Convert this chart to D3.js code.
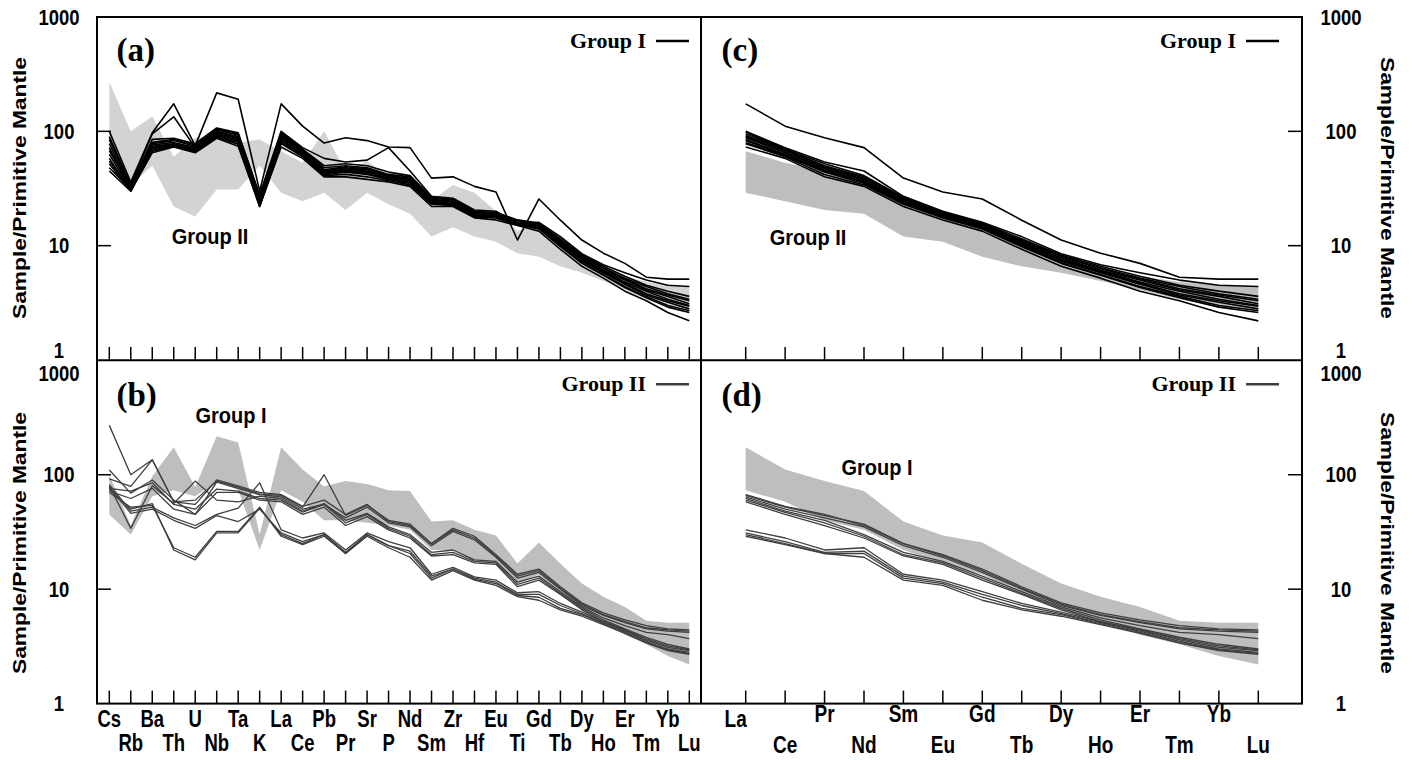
<!DOCTYPE html>
<html><head><meta charset="utf-8">
<script src="https://cdn.jsdelivr.net/npm/d3@7"></script>
<style>body{margin:0;background:#fff}svg{display:block}</style>
</head><body><svg id="c" width="1418" height="760"></svg>
<script>
// ---------- data ----------
const traceElements = ["Cs","Rb","Ba","Th","U","Nb","Ta","K","La","Ce","Pb","Pr","Sr","P","Nd","Sm","Zr","Hf","Eu","Ti","Gd","Tb","Dy","Ho","Er","Tm","Yb","Lu"];
const reeElements = ["La","Ce","Pr","Nd","Sm","Eu","Gd","Tb","Dy","Ho","Er","Tm","Yb","Lu"];
const yTicks = [1, 10, 100, 1000];
const yTickLabels = ["1", "10", "100", "1000"];
const yTitle = "Sample/Primitive Mantle";
const panelLabels = ["(a)", "(b)", "(c)", "(d)"];

// Group I samples (normalised to primitive mantle), order = traceElements
const groupI = [
  [100,36,97,174,75,217,191,30,174,111,79,88,83,73,72,39,40,33,29.5,11.2,25.6,16.7,11.2,8.6,7.0,5.3,5.1,5.1],
  [90,34,95,134,72,105,95,28,100,72,58,54,56,72,45,27,26,20.5,20,15.5,16,12,8.5,6.8,5.8,5.0,4.5,4.4],
  [85,33,85,87,78,107,97,27,98,70,50,52,50,44,41,26.5,25.5,20,19.5,16.8,15.8,11.5,8.3,6.6,5.4,4.5,4.0,3.6],
  [78,32,80,85,76,103,93,26,95,69,48,50,48,42,40,26,25,19.5,19.5,16.5,15.5,11.2,8.1,6.4,5.2,4.4,3.8,3.4],
  [72,31,78,83,74,100,90,25,92,68,46,49,47,41,39,25.5,24.5,19,19,16,15.2,11,8.0,6.3,5.1,4.2,3.7,3.3],
  [68,32,76,80,72,98,88,25,90,66,45,48,46,40,38,25,24,19,18.8,16,15,10.8,7.8,6.1,5.0,4.1,3.6,3.1],
  [63,31,74,78,70,96,86,24,88,65,44,47,45,40,37,24.5,23.5,18.5,18.5,15.8,14.8,10.6,7.6,6.0,4.8,4.0,3.4,3.0],
  [58,30,72,77,69,94,84,24,85,63,43,46,44,39,36,24,23,18.5,18.3,15.6,14.6,10.4,7.5,5.9,4.7,3.8,3.3,2.95],
  [55,31,70,76,68,92,82,23,83,62,42,45,43,38,36,24,23,18,18,15.5,14.4,10.2,7.3,5.8,4.6,3.7,3.2,2.8],
  [52,30,68,75,67,90,80,23,80,61,42,44,42,38,35,23.5,22.5,18,18,15.3,14.2,10,7.1,5.6,4.4,3.6,3.0,2.7],
  [48,31,67,74,66,89,77,22,78,60,41,42,40,37,34,23,22.5,17.8,17.5,15.2,14,9.8,7.0,5.5,4.3,3.5,2.9,2.6],
  [45,30,65,73,65,87,74,22,73,58,40,40,38,36,33,22,22,17.5,16.8,15,13.4,9.3,6.6,5.2,4.0,3.3,2.6,2.2]
];

// Group II samples
const groupII = [
  [270,100,135,58,55,90,80,70,67,53,60,45,55,39,36,25,34,29,20,13.5,15,10.5,7.6,6.2,5.4,4.8,4.5,4.4],
  [92,79,135,58,60,88,78,68,66,52,100,44,54,40,37,25,33,28,19.5,13,14.5,10.2,7.4,6.0,5.2,4.6,4.4,4.3],
  [110,69,90,60,45,86,76,67,64,50,55,42,52,38,35,24,32,27,19,12.5,14,10,7.2,5.9,5.1,4.5,4.3,4.2],
  [80,34,80,56,88,60,58,65,62,48,56,40,46,35,30,21,22,18,17.5,11.5,13,9.5,7.0,5.6,4.8,4.2,4.0,3.7],
  [76,72,85,55,50,75,72,62,60,47,55,38,45,34,29,20,21,17.5,17,11,12.5,9.2,6.8,5.4,4.5,3.8,3.3,3.0],
  [72,62,76,50,45,70,70,60,58,45,52,36,43,33,28,19.5,20,17,16.5,10.5,12,9.0,6.6,5.2,4.4,3.7,3.2,2.95],
  [82,48,52,42,36,45,51,85,33,28,31,22,31,26,23,13.5,15.5,12.8,12,9.3,9.5,7.5,6.3,5.2,4.4,3.6,3.1,2.9],
  [78,46,50,40,34,44,39,50,31,26,30,21,30,24,21.5,13,15,12.5,11.5,9,9.0,7.2,6.1,5.1,4.3,3.5,3.0,2.8],
  [75,50,56,22,18,31,31,51,30,25,30,20.5,30,24,20.5,12.5,15,12.2,11.2,8.8,8.5,6.8,6.0,5.0,4.2,3.4,2.95,2.75],
  [70,52,54,23,19,32,32,52,29,24.5,29,20.5,29,23,19,12,14.5,12,10.8,8.6,8.0,6.6,5.8,4.9,4.1,3.4,2.9,2.7]
];

// ---------- drawing ----------
const svg = d3.select("#c");
const SANS = "'Liberation Sans', Arial, sans-serif";
const SERIF = "'Liberation Serif', 'Times New Roman', serif";

const colX = [{x0:97, x1:701, pad0:12.3, pad1:11.7, legR:12}, {x0:701, x1:1302, pad0:44.7, pad1:43.7, legR:23}];
const rowY = [{y0:17, y1:360}, {y0:360.3, y1:703.6}];

function txt(x, y, s, o) {
  const t = svg.append("text")
    .attr("transform", `translate(${x},${y}) rotate(${o.rot||0}) scale(${o.sx||1},${o.sy||1})`)
    .attr("text-anchor", o.anchor || "middle")
    .attr("font-family", o.family || SANS)
    .attr("font-weight", "bold")
    .attr("font-size", o.size || 19)
    .attr("fill", o.fill || "#000")
    .text(s);
  if (o.dy) t.attr("dy", o.dy);
  return t;
}

function envelope(group, elems) {
  return elems.map(e => {
    const i = traceElements.indexOf(e);
    const vals = group.map(r => r[i]);
    return {e, lo: d3.min(vals), hi: d3.max(vals)};
  });
}

const panels = [
  {col:0, row:0, elems:traceElements, lines:groupI, env:groupII, lineColor:"#000", lineW:1.6, envColor:"#d2d3d5", label:panelLabels[0], legend:"Group I", note:"Group II", noteX:210, noteY:244},
  {col:0, row:1, elems:traceElements, lines:groupII, env:groupI, lineColor:"#3f3f3f", lineW:1.3, envColor:"#bdbec0", label:panelLabels[1], legend:"Group II", note:"Group I", noteX:231, noteY:423},
  {col:1, row:0, elems:reeElements, lines:groupI, env:groupII, lineColor:"#000", lineW:1.6, envColor:"#bdbec0", label:panelLabels[2], legend:"Group I", note:"Group II", noteX:808, noteY:245},
  {col:1, row:1, elems:reeElements, lines:groupII, env:groupI, lineColor:"#3f3f3f", lineW:1.3, envColor:"#bdbec0", label:panelLabels[3], legend:"Group II", note:"Group I", noteX:877, noteY:475}
];

panels.forEach(p => {
  const C = colX[p.col], Rw = rowY[p.row];
  const x = d3.scalePoint().domain(p.elems).range([C.x0 + C.pad0, C.x1 - C.pad1]);
  const y = d3.scaleLog().domain([1, 1000]).range([Rw.y1, Rw.y0]);
  p.x = x; p.y = y;
  const g = svg.append("g");

  // envelope of the other group
  const env = envelope(p.env, p.elems);
  g.append("path").datum(env)
    .attr("d", d3.area().x(d => x(d.e)).y0(d => y(d.lo)).y1(d => y(d.hi)))
    .attr("fill", p.envColor);

  // sample lines
  const idx = p.elems.map(e => traceElements.indexOf(e));
  const line = d3.line().x(d => x(d.e)).y(d => y(d.v));
  p.lines.forEach(r => {
    const pts = idx.map((i, k) => ({e: p.elems[k], v: r[i]}));
    g.append("path").datum(pts).attr("d", line)
      .attr("fill", "none").attr("stroke", p.lineColor)
      .attr("stroke-width", p.lineW).attr("stroke-linejoin", "round");
  });

  // x ticks (inward from bottom)
  p.elems.forEach(e => {
    g.append("line").attr("x1", x(e)).attr("x2", x(e))
      .attr("y1", Rw.y1).attr("y2", Rw.y1 - 13)
      .attr("stroke", "#000").attr("stroke-width", 1.5);
  });
  // y ticks (inward) on outer side
  [10, 100].forEach(v => {
    const xs = p.col === 0 ? [C.x0, C.x0 + 14] : [C.x1, C.x1 - 14];
    g.append("line").attr("x1", xs[0]).attr("x2", xs[1])
      .attr("y1", y(v)).attr("y2", y(v))
      .attr("stroke", "#000").attr("stroke-width", 1.5);
  });

  // y tick labels
  yTicks.forEach((v, k) => {
    let yy = y(v);
    if (v === 1 && p.row === 0) yy -= 10;
    if (v === 1000 && p.row === 1) yy += 13;
    const lx = p.col === 0 ? 59 : 1341;
    txt(lx, yy, yTickLabels[k], {size:18.5, sy:1.15, dy:"0.36em"});
  });

  // panel label
  txt(C.x0 + (p.col === 0 ? 19.5 : 20.5), Rw.y0 + (p.row === 0 ? 44 : 45.5), p.label, {family:SERIF, size:33, anchor:"start"});
  // legend
  const lx1 = C.x1 - C.legR, lx0 = lx1 - 33;
  const ly = Rw.y0 + 24;
  g.append("line").attr("x1", lx0).attr("x2", lx1).attr("y1", ly).attr("y2", ly)
    .attr("stroke", p.lineColor).attr("stroke-width", 2.4);
  txt(lx0 - 10, ly + 6.5, p.legend, {family:SERIF, size:22, anchor:"end"});
  // group note
  txt(p.noteX, p.noteY, p.note, {size:20, sy:1.12});
});

// x labels (alternating rows)
const pl = panels[1];
traceElements.forEach((e, i) => {
  txt(pl.x(e), i % 2 === 0 ? 727 : 751, e, {size:18.5, sy:1.25});
});
const pr = panels[3];
reeElements.forEach((e, i) => {
  const dx = e === "La" ? -10 : 0;
  const yy = i % 2 === 0 ? (e === "La" ? 727 : 722) : 753;
  txt(pr.x(e) + dx, yy, e, {size:19, sy:1.25});
});

// frame
svg.append("rect").attr("x", 97).attr("y", 17).attr("width", 1302 - 97).attr("height", 703.6 - 17)
  .attr("fill", "none").attr("stroke", "#000").attr("stroke-width", 2);
svg.append("line").attr("x1", 97).attr("x2", 1302).attr("y1", 360.3).attr("y2", 360.3)
  .attr("stroke", "#000").attr("stroke-width", 2);
svg.append("line").attr("x1", 701).attr("x2", 701).attr("y1", 17).attr("y2", 703.6)
  .attr("stroke", "#000").attr("stroke-width", 2);

// y titles
[188, 543].forEach(cy => {
  txt(19, cy, yTitle, {size:19, rot:-90, sx:1.2, dy:"0.36em"});
  txt(1388, cy, yTitle, {size:19, rot:90, sx:1.2, dy:"0.36em"});
});
</script>
</body></html>
